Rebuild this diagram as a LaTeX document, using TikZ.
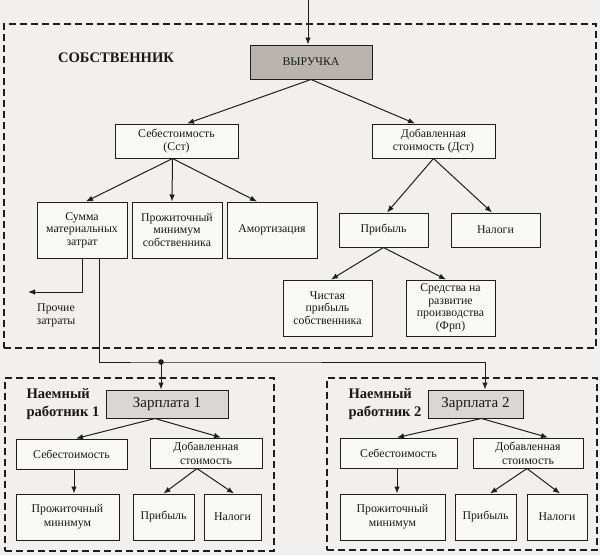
\documentclass[tikz,border=0pt]{standalone}
\usepackage{fontspec}
\setmainfont{Liberation Serif}
\usetikzlibrary{arrows.meta}
\definecolor{fon}{HTML}{F1F0EE}
\definecolor{linija}{HTML}{1E1E1E}
\definecolor{vyruchka}{HTML}{B9B4B0}
\definecolor{zarplata}{HTML}{D9D7D5}

\begin{document}
\begin{tikzpicture}[x=1pt,y=-1pt,
  blok/.style={draw=linija,rectangle,line width=1pt,fill=white!50!fon,text=black!90,align=center,inner sep=1pt,font=\fontsize{11.8}{12.5}\selectfont},
  nizblok/.style={blok,font=\fontsize{11.8}{14}\selectfont},
  strelka/.style={-{Latex[length=7pt,width=5.5pt]},line width=1pt,draw=linija},
  ramka/.style={draw=linija,rectangle,dash pattern=on 7pt off 4pt,line width=1.4pt,inner sep=0pt},
  zagolovok/.style={font=\fontsize{14.6}{18}\selectfont\bfseries,align=left,text=black!90}]
\useasboundingbox (0,0) rectangle (600,555);
\fill[fon] (0,0) rectangle (600,555);
% Ramki
\node[ramka, minimum width=592pt, minimum height=324pt] (SOBST) at (300,186) {};
\node[ramka, minimum width=269pt, minimum height=173pt] (RAB1) at (139.5,464.5) {};
\node[ramka, minimum width=270pt, minimum height=172pt] (RAB2) at (462,464) {};
% Sobstvennik
\node[zagolovok] (sob) at (116,58) {СОБСТВЕННИК};
\node[blok, minimum width=122pt, minimum height=34pt, fill=vyruchka] (vyr) at (311,62) {ВЫРУЧКА};
\node[blok, minimum width=123pt, minimum height=34pt] (sst) at (176.5,141) {Себестоимость\\(Сст)};
\node[blok, minimum width=123pt, minimum height=34pt] (dst) at (433.5,141) {Добавленная\\стоимость (Дст)};
\node[blok, minimum width=90pt, minimum height=56pt] (summa) at (82,230) {Сумма\\материальных\\затрат};
\node[blok, minimum width=90pt, minimum height=56pt] (prozh) at (177,230) {Прожиточный\\минимум\\собственника};
\node[blok, minimum width=90pt, minimum height=56pt] (amort) at (272,230) {Амортизация};
\node[blok, minimum width=89pt, minimum height=34pt] (prib) at (383.5,230) {Прибыль};
\node[blok, minimum width=89pt, minimum height=34pt] (nal) at (495.5,230) {Налоги};
\node[blok, minimum width=89pt, minimum height=56pt] (chist) at (327.5,308) {Чистая\\прибыль\\собственника};
\node[blok, minimum width=89pt, minimum height=56pt] (sredst) at (450.5,308) {Средства на\\развитие\\производства\\(Фрп)};
\node[align=center, text=black!90, font=\fontsize{11.8}{13}\selectfont] (prochtxt) at (56,315) {Прочие\\затраты};
\coordinate (vhod) at (308,0);
\coordinate (prochie) at (28,292);
\coordinate (razv) at (161,362);
% Rabotnik 1
\node[zagolovok, anchor=west] (naem1) at (23,404) {Наемный\\работник 1};
\node[blok, minimum width=122pt, minimum height=28pt, fill=zarplata, font=\fontsize{15}{16}\selectfont] (z1) at (167,404) {Зарплата 1};
\node[nizblok, minimum width=111pt, minimum height=30pt] (sst1) at (71.5,454) {Себестоимость};
\node[nizblok, minimum width=112pt, minimum height=30pt] (dst1) at (206,453) {Добавленная\\стоимость};
\node[nizblok, minimum width=103pt, minimum height=46pt] (pm1) at (67.5,517) {Прожиточный\\минимум};
\node[nizblok, minimum width=61pt, minimum height=46pt] (pr1) at (163.5,517) {Прибыль};
\node[nizblok, minimum width=57pt, minimum height=46pt] (nl1) at (232.5,517) {Налоги};
% Rabotnik 2
\node[zagolovok, anchor=west] (naem2) at (345,404) {Наемный\\работник 2};
\node[blok, minimum width=95pt, minimum height=28pt, fill=zarplata, font=\fontsize{15}{16}\selectfont] (z2) at (475.5,404) {Зарплата 2};
\node[nizblok, minimum width=117pt, minimum height=30pt] (sst2) at (398.5,453) {Себестоимость};
\node[nizblok, minimum width=110pt, minimum height=30pt] (dst2) at (528,453) {Добавленная\\стоимость};
\node[nizblok, minimum width=105pt, minimum height=46pt] (pm2) at (392.5,517) {Прожиточный\\минимум};
\node[nizblok, minimum width=61pt, minimum height=46pt] (pr2) at (485.5,517) {Прибыль};
\node[nizblok, minimum width=60pt, minimum height=46pt] (nl2) at (557,517) {Налоги};
% Strelki
\draw[strelka] (vhod) -- (vhod |- vyr.north);
\draw[strelka] (vyr.south) -- ([xshift=10.5pt]sst.north);
\draw[strelka] (vyr.south) -- ([xshift=-18.5pt]dst.north);
\draw[strelka] ([xshift=-4pt]sst.south) -- ([xshift=4pt]summa.north);
\draw[strelka] ([xshift=-4pt]sst.south) -- ([xshift=-5pt]prozh.north);
\draw[strelka] ([xshift=-4pt]sst.south) -- ([xshift=-15pt]amort.north);
\draw[strelka] (dst.south) -- ([xshift=3.5pt]prib.north);
\draw[strelka] (dst.south) -- ([xshift=-3.5pt]nal.north);
\draw[strelka] (prib.south) -- ([xshift=3.5pt]chist.north);
\draw[strelka] (prib.south) -- ([xshift=-4.5pt]sredst.north);
\draw[strelka] (summa.south) |- (prochie);
\draw[strelka] ([xshift=17pt]summa.south) |- (razv) -| ([xshift=9.5pt]z2.north);
\draw[strelka] (razv) -- (razv |- z1.north);
\fill[linija] (razv) circle (2.8pt);
\draw[strelka] ([xshift=-12pt]z1.south) -- ([xshift=4.5pt]sst1.north);
\draw[strelka] ([xshift=-12pt]z1.south) -- ([xshift=15pt]dst1.north);
\draw[strelka] ([xshift=2.5pt]sst1.south) -- ([xshift=6.5pt]pm1.north);
\draw[strelka] ([xshift=-9pt]dst1.south) -- (pr1.north);
\draw[strelka] ([xshift=-9pt]dst1.south) -- ([xshift=1.5pt]nl1.north);
\draw[strelka] ([xshift=6pt]z2.south) -- ([xshift=-1.5pt]sst2.north);
\draw[strelka] ([xshift=6pt]z2.south) -- ([xshift=20pt]dst2.north);
\draw[strelka] ([xshift=-1.5pt]sst2.south) -- ([xshift=4.5pt]pm2.north);
\draw[strelka] ([xshift=-1pt]dst2.south) -- ([xshift=4.5pt]pr2.north);
\draw[strelka] ([xshift=-1pt]dst2.south) -- ([xshift=3pt]nl2.north);
\end{tikzpicture}
\end{document}
